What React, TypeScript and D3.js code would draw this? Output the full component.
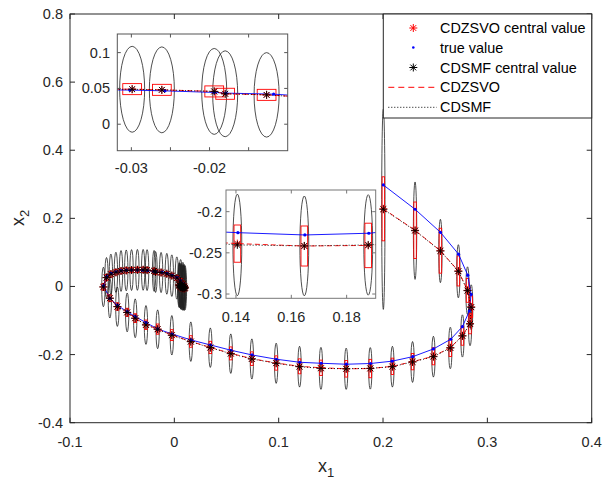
import React from 'react';
import * as d3 from 'd3';

// ---------------- DATA ----------------
// true trajectory
const trueX = [0.2003, 0.2307, 0.2550, 0.2724, 0.2812, 0.2844, 0.2828, 0.2761, 0.2649, 0.2483,
  0.2285, 0.2087, 0.1880, 0.1649, 0.1407, 0.1202, 0.0978, 0.0745, 0.0543, 0.0347,
  0.0160, -0.0022, -0.0159, -0.0271, -0.0374, -0.0451, -0.0545, -0.0617, -0.0679, -0.0648,
  -0.0607, -0.0559, -0.0510, -0.0460, -0.0410, -0.0355, -0.0302, -0.0257, -0.0194, -0.0179,
  -0.0118, -0.0070, -0.0022, 0.0025, 0.0058, 0.0078, 0.0084, 0.0080, 0.0075, 0.0070,
  0.0067, 0.0067, 0.0069, 0.0071, 0.0072, 0.0072, 0.0071, 0.0071, 0.0071, 0.0071];
const trueY = [0.2980, 0.2267, 0.1591, 0.0948, 0.0332, -0.0235, -0.0719, -0.1180, -0.1550, -0.1835,
  -0.2061, -0.2193, -0.2262, -0.2283, -0.2255, -0.2226, -0.2137, -0.2011, -0.1873, -0.1718,
  -0.1571, -0.1395, -0.1248, -0.1063, -0.0887, -0.0740, -0.0558, -0.0346, 0.0015, 0.0288,
  0.0382, 0.0432, 0.0465, 0.0478, 0.0484, 0.0482, 0.0477, 0.0466, 0.0444, 0.0434,
  0.0420, 0.0385, 0.0330, 0.0262, 0.0175, 0.0085, 0.0015, -0.0030, -0.0050, -0.0055,
  -0.0045, -0.0030, -0.0020, -0.0015, -0.0015, -0.0017, -0.0019, -0.0020, -0.0020, -0.0020];
// estimated centres (shared abscissa of both filters)
const estX = [0.2003, 0.2307, 0.2550, 0.2722, 0.2810, 0.2845, 0.2834, 0.2761, 0.2645, 0.2483,
  0.2283, 0.2090, 0.1878, 0.1647, 0.1405, 0.1200, 0.0976, 0.0743, 0.0541, 0.0345,
  0.0158, -0.0024, -0.0160, -0.0272, -0.0375, -0.0452, -0.0546, -0.0618, -0.0680, -0.0650,
  -0.0608, -0.0560, -0.0511, -0.0461, -0.0410, -0.0354, -0.0299, -0.0261, -0.0194, -0.0180,
  -0.0127, -0.0072, -0.0024, 0.0024, 0.0060, 0.0082, 0.0095, 0.0102, 0.0094, 0.0080,
  0.0064, 0.0050, 0.0046, 0.0056, 0.0070, 0.0084, 0.0090, 0.0082, 0.0068, 0.0060];
const cdsmfY = [0.2267, 0.1638, 0.1042, 0.0446, -0.0123, -0.0611, -0.1101, -0.1453, -0.1806, -0.2061,
  -0.2217, -0.2355, -0.2404, -0.2416, -0.2404, -0.2355, -0.2255, -0.2129, -0.1973, -0.1797,
  -0.1621, -0.1433, -0.1257, -0.1130, -0.0934, -0.0763, -0.0593, -0.0346, -0.0015, 0.0260,
  0.0360, 0.0415, 0.0455, 0.0472, 0.0482, 0.0487, 0.0488, 0.0480, 0.0458, 0.0425,
  0.0410, 0.0372, 0.0318, 0.0248, 0.0160, 0.0070, -0.0005, -0.0040, -0.0060, -0.0050,
  -0.0020, 0.0020, 0.0045, 0.0040, 0.0020, -0.0010, -0.0035, -0.0040, -0.0025, 0.0000];
const cdzsvoY = [0.2280, 0.1650, 0.1050, 0.0455, -0.0115, -0.0600, -0.1090, -0.1445, -0.1795, -0.2050,
  -0.2207, -0.2345, -0.2410, -0.2417, -0.2388, -0.2345, -0.2247, -0.2120, -0.1965, -0.1790,
  -0.1615, -0.1428, -0.1252, -0.1125, -0.0930, -0.0760, -0.0590, -0.0343, -0.0012, 0.0262,
  0.0362, 0.0417, 0.0456, 0.0473, 0.0483, 0.0488, 0.0490, 0.0480, 0.0458, 0.0425,
  0.0410, 0.0373, 0.0319, 0.0249, 0.0161, 0.0071, -0.0004, -0.0039, -0.0059, -0.0049,
  -0.0019, 0.0021, 0.0046, 0.0041, 0.0021, -0.0009, -0.0034, -0.0039, -0.0024, 0.0001];
// CDSMF ellipse half-heights and CDZSVO box half-heights
const ellipseRy = [0.294, 0.143, 0.093, 0.078, 0.070, 0.066, 0.064, 0.062, 0.061, 0.060,
  0.060, 0.060, 0.061, 0.0606, 0.0617, 0.060, 0.059, 0.059, 0.058, 0.058,
  0.058, 0.058, 0.057, 0.057, 0.057, 0.057, 0.058, 0.058, 0.058, 0.059,
  0.059, 0.059, 0.060, 0.060, 0.060, 0.060, 0.060, 0.060, 0.060, 0.060,
  0.059, 0.060, 0.061, 0.062, 0.063, 0.064, 0.065, 0.065, 0.065, 0.065,
  0.065, 0.065, 0.065, 0.065, 0.065, 0.065, 0.065, 0.065, 0.065, 0.065];
const boxRy = [0.094, 0.083, 0.066, 0.044, 0.035, 0.032, 0.030, 0.028, 0.026, 0.025,
  0.024, 0.024, 0.027, 0.0243, 0.0226, 0.022, 0.021, 0.020, 0.019, 0.018,
  0.017, 0.016, 0.015, 0.014, 0.013, 0.012, 0.011, 0.010, 0.010, 0.009,
  0.009, 0.008, 0.008, 0.008, 0.008, 0.008, 0.0077, 0.0077, 0.0077, 0.0077,
  0.0077, 0.007, 0.007, 0.007, 0.007, 0.006, 0.006, 0.006, 0.006, 0.006,
  0.006, 0.006, 0.006, 0.006, 0.006, 0.006, 0.006, 0.006, 0.006, 0.006];
const ellipseRx = 0.0016;
const boxRx = 0.0012;

// ticks
const mainXTicks = [-0.1, 0, 0.1, 0.2, 0.3, 0.4];
const mainYTicks = [-0.4, -0.2, 0, 0.2, 0.4, 0.6, 0.8];
const in1XTicks = [-0.03, -0.025, -0.02, -0.015];
const in1XLabels = [-0.03, -0.02];
const in1YTicks = [0, 0.05, 0.1];
const in2XTicks = [0.14, 0.16, 0.18];
const in2YTicks = [-0.3, -0.25, -0.2];
const legendLabels = ['CDZSVO central value', 'true value', 'CDSMF central value', 'CDZSVO', 'CDSMF'];

// ---------------- RENDER ----------------
const FONT = '"Liberation Sans", Arial, Helvetica, sans-serif';
const TXT = '#262626';

const starPath = (x: number, y: number, s: number) => {
  const d = s * 0.72;
  return `M${x - s},${y}H${x + s}M${x},${y - s}V${y + s}M${x - d},${y - d}L${x + d},${y + d}M${x - d},${y + d}L${x + d},${y - d}`;
};

const fmt = (v: number) => String(+v.toFixed(4)).replace('\u2212', '-');

type Sc = d3.ScaleLinear<number, number>;

function Content({ xs, ys, clip, star }: { xs: Sc; ys: Sc; clip: string; star: number }) {
  const idx = d3.range(trueX.length);
  const mk = (xa: number[], ya: number[]) => d3.line<number>().x(i => xs(xa[i])).y(i => ys(ya[i]))(idx) || '';
  return (
    <g clipPath={`url(#${clip})`}>
      {idx.map(i => (
        <ellipse key={'e' + i} cx={xs(estX[i])} cy={ys(cdsmfY[i])}
          rx={Math.abs(xs(estX[i] + ellipseRx) - xs(estX[i]))}
          ry={Math.abs(ys(cdsmfY[i] + ellipseRy[i]) - ys(cdsmfY[i]))}
          fill="none" stroke="#222" strokeWidth={0.8} />
      ))}
      {idx.map(i => {
        const x0 = xs(estX[i] - boxRx), x1 = xs(estX[i] + boxRx);
        const y0 = ys(cdzsvoY[i] + boxRy[i]), y1 = ys(cdzsvoY[i] - boxRy[i]);
        return <rect key={'r' + i} x={x0} y={y0} width={x1 - x0} height={y1 - y0} fill="none" stroke="#ff0000" strokeWidth={0.9} />;
      })}
      <path d={mk(trueX, trueY)} fill="none" stroke="#0000ff" strokeWidth={0.9} />
      <path d={mk(estX, cdzsvoY)} fill="none" stroke="#ff0000" strokeWidth={0.9} strokeDasharray="5,3" />
      <path d={mk(estX, cdsmfY)} fill="none" stroke="#000" strokeWidth={0.9} strokeDasharray="1,2" />
      {idx.map(i => (
        <path key={'zs' + i} d={starPath(xs(estX[i]), ys(cdzsvoY[i]), star)} stroke="#ff0000" strokeWidth={0.9} fill="none" />
      ))}
      {idx.map(i => (
        <circle key={'t' + i} cx={xs(trueX[i])} cy={ys(trueY[i])} r={1.6} fill="#0000ff" />
      ))}
      {idx.map(i => (
        <path key={'ms' + i} d={starPath(xs(estX[i]), ys(cdsmfY[i]), star)} stroke="#000" strokeWidth={0.9} fill="none" />
      ))}
    </g>
  );
}

function Axes({ xs, ys, xt, xl, yt, tick, stroke, xOff, yOff, id, star }: {
  xs: Sc; ys: Sc; xt: number[]; xl: number[]; yt: number[]; tick: number; stroke: string; xOff: number; yOff: number; id: string; star: number;
}) {
  const [x0, x1] = xs.range();
  const [y1, y0] = ys.range();
  return (
    <g>
      <defs>
        <clipPath id={id}><rect x={x0} y={y0} width={x1 - x0} height={y1 - y0} /></clipPath>
      </defs>
      <rect x={x0} y={y0} width={x1 - x0} height={y1 - y0} fill="#fff" />
      <Content xs={xs} ys={ys} clip={id} star={star} />
      <g stroke={stroke} strokeWidth={1}>
        {xt.map(v => (
          <g key={'xt' + v}>
            <line x1={xs(v)} x2={xs(v)} y1={y1} y2={y1 - tick} />
            <line x1={xs(v)} x2={xs(v)} y1={y0} y2={y0 + tick} />
          </g>
        ))}
        {yt.map(v => (
          <g key={'yt' + v}>
            <line x1={x0} x2={x0 + tick} y1={ys(v)} y2={ys(v)} />
            <line x1={x1} x2={x1 - tick} y1={ys(v)} y2={ys(v)} />
          </g>
        ))}
        <rect x={x0} y={y0} width={x1 - x0} height={y1 - y0} fill="none" />
      </g>
      <g fontFamily={FONT} fontSize={14.5} fill={TXT}>
        {xl.map(v => (
          <text key={'xl' + v} x={xs(v)} y={y1 + xOff} textAnchor="middle">{fmt(v)}</text>
        ))}
        {yt.map(v => (
          <text key={'yl' + v} x={x0 - yOff} y={ys(v)} textAnchor="end" dominantBaseline="central">{fmt(v)}</text>
        ))}
      </g>
    </g>
  );
}

export default function App() {
  const xs = d3.scaleLinear().domain([-0.1, 0.4]).range([70, 591.7]);
  const ys = d3.scaleLinear().domain([-0.4, 0.8]).range([422.7, 14]);
  const xs1 = d3.scaleLinear().domain([-0.0318, -0.0100]).range([117.3, 287.7]);
  const ys1 = d3.scaleLinear().domain([-0.037, 0.126]).range([150.7, 34]);
  const xs2 = d3.scaleLinear().domain([0.1364, 0.1905]).range([226, 375.7]);
  const ys2 = d3.scaleLinear().domain([-0.3052, -0.1737]).range([298.3, 190]);

  const lgX = 383.3, lgY = 14, lgW = 591.7 - 383.3, lgH = 104;
  const rows = [28, 47.5, 67.5, 87.3, 107.3];

  return (
    <svg width={603} height={481} style={{ position: 'absolute', left: 0, top: 0, background: '#fff' }}>
      <rect x={0} y={0} width={603} height={481} fill="#fff" />
      <Axes xs={xs} ys={ys} xt={mainXTicks} xl={mainXTicks} yt={mainYTicks} tick={5} stroke="#262626" xOff={24.3} yOff={7} id="clipMain" star={4} />
      <Axes xs={xs1} ys={ys1} xt={in1XTicks} xl={in1XLabels} yt={in1YTicks} tick={3.5} stroke="#555" xOff={22.5} yOff={7.3} id="clipIn1" star={4} />
      <Axes xs={xs2} ys={ys2} xt={in2XTicks} xl={in2XTicks} yt={in2YTicks} tick={3.5} stroke="#777" xOff={23.7} yOff={4} id="clipIn2" star={4} />
      {/* axis labels */}
      <text x={318} y={471.5} fontFamily={FONT} fontSize={18} fill={TXT}>x<tspan fontSize={13} dy={5}>1</tspan></text>
      <text transform="translate(24,226) rotate(-90)" fontFamily={FONT} fontSize={18} fill={TXT}>x<tspan fontSize={13} dy={5}>2</tspan></text>
      {/* legend */}
      <g>
        <rect x={lgX} y={lgY} width={lgW} height={lgH} fill="#fff" stroke="#262626" strokeWidth={1} />
        <path d={starPath(413.3, rows[0], 4)} stroke="#ff0000" strokeWidth={1} fill="none" />
        <circle cx={413.3} cy={rows[1]} r={1.3} fill="#0000ff" />
        <path d={starPath(413.3, rows[2], 4)} stroke="#000" strokeWidth={1} fill="none" />
        <line x1={388.3} x2={436.7} y1={rows[3]} y2={rows[3]} stroke="#ff0000" strokeWidth={1} strokeDasharray="6,4" />
        <line x1={388.3} x2={436.7} y1={rows[4]} y2={rows[4]} stroke="#000" strokeWidth={1} strokeDasharray="1,2" />
        {legendLabels.map((t, i) => (
          <text key={t} x={440} y={rows[i]} fontFamily={FONT} fontSize={14.4} fill="#000" dominantBaseline="central">{t}</text>
        ))}
      </g>
    </svg>
  );
}
